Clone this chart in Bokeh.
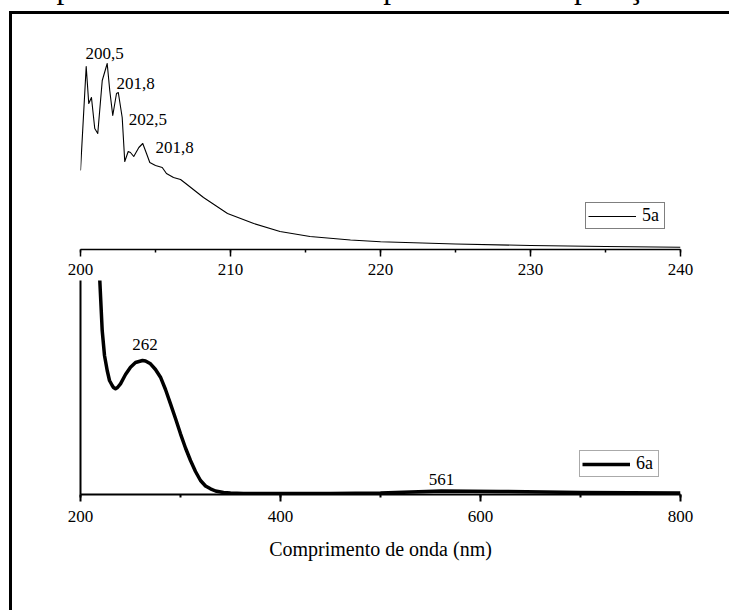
from bokeh.plotting import figure
from bokeh.layouts import column
from bokeh.models import (Range1d, SingleIntervalTicker, FixedTicker, Legend, LegendItem,
                          InlineStyleSheet, Div)
from bokeh.embed import file_html
from bokeh.resources import INLINE
from bokeh.core.properties import value

SERIF = "Liberation Serif"

HEADING = "Espectro de UV-Vis. de complexos em comparação com os ligantes"

# UV-Vis spectrum of complex 5a (200-240 nm)
wl_5a = [200.0, 200.38, 200.55, 200.73, 200.95, 201.15, 201.45, 201.78, 201.95, 202.15,
         202.4, 202.52, 202.78, 202.95, 203.18, 203.33, 203.55, 203.89, 204.15, 204.4,
         204.62, 205.0, 205.45, 205.73, 206.2, 206.67, 207.1, 208.2, 209.8, 211.55,
         213.3, 215.3, 218.0, 220.0, 225.0, 230.0, 235.0, 240.0]
abs_5a = [0.79, 1.83, 1.46, 1.52, 1.21, 1.16, 1.69, 1.86, 1.59, 1.34,
          1.56, 1.57, 1.32, 0.88, 0.98, 0.97, 0.93, 1.02, 1.06, 0.96,
          0.87, 0.84, 0.82, 0.76, 0.72, 0.70, 0.65, 0.52, 0.36, 0.26,
          0.18, 0.13, 0.095, 0.077, 0.055, 0.04, 0.03, 0.022]

# peak annotations for 5a
peak_5a_x = [200.33, 202.4, 203.22, 205.0]
peak_5a_y = [1.965, 1.665, 1.305, 1.02]
peak_5a_text = ["200,5", "201,8", "202,5", "201,8"]

# UV-Vis spectrum of complex 6a (200-800 nm)
wl_6a = [217.5, 219.3, 221.7, 224.0, 226.7, 229.0, 231.7, 233.0, 235.0, 237.0,
         240.0, 245.0, 250.0, 255.0, 262.0, 265.0, 270.0, 275.0, 280.0, 285.0,
         290.0, 295.0, 300.0, 305.0, 310.0, 315.0, 320.0, 325.0, 330.0, 335.0,
         343.0, 350.0, 363.0, 400.0, 450.0, 500.0, 561.0, 620.0, 700.0, 800.0]
abs_6a = [2.55, 2.13, 1.63, 1.38, 1.23, 1.13, 1.08, 1.06, 1.047, 1.06,
          1.097, 1.19, 1.263, 1.31, 1.33, 1.325, 1.297, 1.24, 1.163, 1.04,
          0.897, 0.75, 0.597, 0.455, 0.33, 0.22, 0.13, 0.075, 0.047, 0.025,
          0.01, 0.005, 0.0, 0.0, 0.0, 0.005, 0.025, 0.02, 0.01, 0.005]

peak_6a_x = [264.5, 561.0]
peak_6a_y = [1.495, 0.14]
peak_6a_text = ["262", "561"]


def style_x_axis(ax, interval, line_width, standoff):
    ax.ticker = SingleIntervalTicker(interval=interval, num_minor_ticks=2)
    ax.axis_line_color = "black"
    ax.axis_line_width = line_width
    ax.major_tick_line_color = "black"
    ax.major_tick_line_width = line_width
    ax.minor_tick_line_color = "black"
    ax.minor_tick_line_width = line_width
    ax.major_tick_in = 0
    ax.major_tick_out = 7
    ax.minor_tick_in = 0
    ax.minor_tick_out = 3
    ax.major_label_text_font = SERIF
    ax.major_label_text_font_size = "17px"
    ax.major_label_text_color = "black"
    ax.major_label_standoff = standoff


def style_legend(leg, x, y, border_color):
    leg.location = (x, y)
    leg.border_line_color = border_color
    leg.border_line_width = 1
    leg.background_fill_color = "white"
    leg.background_fill_alpha = 1
    leg.padding = 2
    leg.margin = 0
    leg.spacing = 0
    leg.glyph_width = 48
    leg.glyph_height = 14
    leg.label_height = 14
    leg.label_standoff = 6
    leg.label_text_font = SERIF
    leg.label_text_font_size = "18px"
    leg.label_text_color = "black"


# ---- page heading, running off the top edge of the sheet ----
heading = Div(
    text=('<div style="position:relative; top:-28px; left:25px; white-space:nowrap; '
          'font-family:\'Liberation Serif\'; font-size:31.5px; line-height:31.5px; color:black;">'
          + HEADING + '</div>'),
    width=729, height=8, margin=0, styles={"overflow": "hidden"})

# ---- upper panel: 5a ----
top = figure(width=729, height=272, x_range=Range1d(200, 240), y_range=Range1d(0, 2.41),
             output_backend="svg", toolbar_location=None, y_axis_location=None,
             min_border_left=80, min_border_right=49, min_border_top=0, min_border_bottom=31)
top.outline_line_color = None
top.xgrid.visible = False
top.ygrid.visible = False
style_x_axis(top.xaxis[0], 10, 1.5, 7)

r5 = top.line(wl_5a, abs_5a, line_color="black", line_width=1.1, line_join="round")
top.text(x=peak_5a_x, y=peak_5a_y, text=peak_5a_text, text_font=value(SERIF),
         text_font_size="17px", text_align="left", text_baseline="middle", text_color="black")

leg5 = Legend(items=[LegendItem(label="5a", renderers=[r5])])
style_legend(leg5, 505, 20, "black")
top.add_layout(leg5)

# ---- lower panel: 6a ----
bot = figure(width=729, height=330, x_range=Range1d(200, 800), y_range=Range1d(-0.01, 2.13),
             output_backend="svg", toolbar_location=None,
             min_border_left=80, min_border_right=49, min_border_top=0, min_border_bottom=116)
bot.outline_line_color = None
bot.xgrid.visible = False
bot.ygrid.visible = False
style_x_axis(bot.xaxis[0], 200, 2, 9)
bot.xaxis.axis_label = "Comprimento de onda (nm)"
bot.xaxis.axis_label_text_font = SERIF
bot.xaxis.axis_label_text_font_size = "20px"
bot.xaxis.axis_label_text_font_style = "normal"
bot.xaxis.axis_label_text_color = "black"
bot.xaxis.axis_label_standoff = 13

bot.yaxis.ticker = FixedTicker(ticks=[])
bot.yaxis.axis_line_color = "black"
bot.yaxis.axis_line_width = 2
bot.yaxis.major_tick_out = 0
bot.yaxis.minor_tick_out = 0

r6 = bot.line(wl_6a, abs_6a, line_color="black", line_width=3.5, line_join="round")
bot.text(x=peak_6a_x, y=peak_6a_y, text=peak_6a_text, text_font=value(SERIF),
         text_font_size="17px", text_align="center", text_baseline="middle", text_color="black")

leg6 = Legend(items=[LegendItem(label="6a", renderers=[r6])])
style_legend(leg6, 499, 17, "#555555")
bot.add_layout(leg6)

# page frame: thick rule along the left and top edges of the sheet
page_frame = InlineStyleSheet(css="""
:host::after {
  content: "";
  position: absolute;
  left: 9px;
  top: 11px;
  width: 720px;
  height: 599px;
  box-sizing: border-box;
  border-left: 3px solid black;
  border-top: 3px solid black;
  pointer-events: none;
  z-index: 100;
}
""")

layout = column(heading, top, bot, spacing=0, stylesheets=[page_frame])
open("out.html", "w").write(file_html(layout, INLINE))
